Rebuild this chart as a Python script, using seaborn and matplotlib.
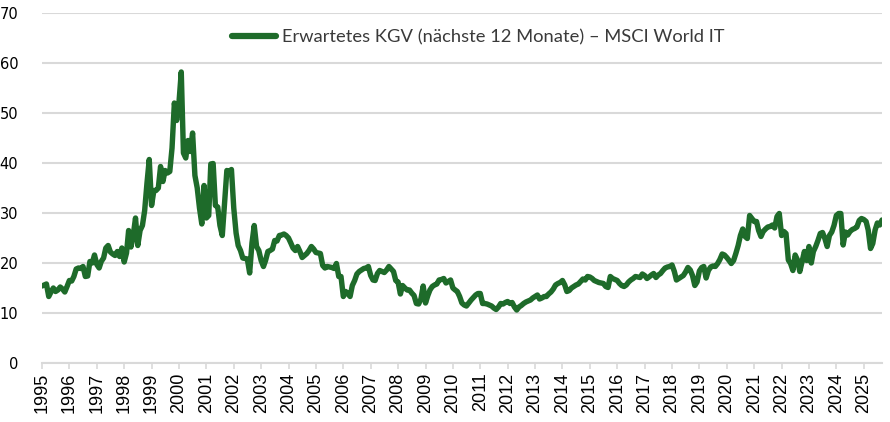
import numpy as np
import pandas as pd
import matplotlib
matplotlib.use("Agg")
import matplotlib.pyplot as plt
import matplotlib.dates as mdates
import seaborn as sns

# Monthly expected P/E values, starting January 1995
pe_1995_2004 = [
    15.4, 15.6, 15.8, 13.3, 14.2, 15.0, 14.3, 14.6, 15.2, 14.8, 14.2, 15.3,
    16.5, 16.4, 17.3, 18.8, 19.0, 18.9, 19.3, 17.3, 17.4, 20.3, 20.0, 21.6,
    19.7, 19.0, 20.3, 21.0, 23.0, 23.5, 22.2, 21.8, 21.5, 22.3, 21.3, 23.0,
    20.2, 22.0, 26.5, 23.2, 25.5, 29.0, 23.5, 26.5, 27.5, 30.5, 36.0, 40.7,
    31.5, 34.5, 34.5, 35.0, 39.3, 36.3, 38.5, 38.0, 38.3, 43.0, 52.0, 48.5,
    52.0, 58.2, 42.0, 41.0, 44.5, 42.3, 46.0, 37.5, 35.0, 31.0, 27.8, 35.5,
    29.0, 29.5, 39.8, 39.9, 31.5, 31.2, 27.5, 25.5, 32.0, 38.5, 38.3, 38.7,
    31.0, 26.0, 23.5, 22.5, 21.0, 20.9, 20.8, 18.0, 24.0, 27.5, 23.3, 22.5,
    20.5, 19.3, 20.5, 22.3, 22.5, 22.8, 24.5, 24.4, 25.5, 25.6, 25.8, 25.5,
    25.0, 24.0, 23.0, 22.5, 23.3, 22.3, 21.1, 21.5, 21.9, 22.5, 23.3, 22.8,
]
pe_2005_2014 = [
    22.1, 22.0, 21.9, 19.5, 19.0, 19.3, 19.2, 19.1, 18.9, 19.9, 17.3, 17.3,
    13.3, 14.3, 13.9, 13.3, 15.5, 16.5, 17.8, 18.3, 18.6, 18.9, 19.0, 19.3,
    17.5, 16.6, 16.5, 17.9, 18.5, 18.3, 18.1, 18.6, 19.3, 18.8, 18.3, 16.5,
    16.2, 13.8, 15.5, 15.0, 14.6, 14.6, 14.0, 13.5, 11.9, 11.8, 12.8, 15.4,
    12.0, 13.5, 14.6, 15.3, 15.6, 15.8, 16.6, 16.7, 16.9, 16.0, 16.3, 16.6,
    15.0, 14.6, 14.3, 13.3, 12.0, 11.6, 11.4, 12.0, 12.6, 13.1, 13.6, 13.9,
    13.9, 11.9, 11.9, 11.8, 11.6, 11.4, 11.0, 10.7, 11.2, 11.9, 11.8, 12.1,
    12.3, 11.9, 12.1, 11.2, 10.6, 11.2, 11.5, 11.9, 12.2, 12.4, 12.6, 13.0,
    13.3, 13.6, 12.8, 13.0, 13.3, 13.3, 13.8, 14.2, 14.8, 15.6, 15.9, 16.1,
    16.5, 15.6, 14.3, 14.5, 15.0, 15.3, 15.6, 15.8, 16.3, 16.8, 16.6, 17.3,
]
pe_2015_2025 = [
    17.2, 16.9, 16.5, 16.3, 16.1, 16.0, 15.9, 15.3, 15.1, 17.3, 16.9, 16.7,
    16.5, 15.9, 15.5, 15.3, 15.6, 16.2, 16.6, 16.9, 17.3, 17.2, 17.1, 17.8,
    17.5, 16.9, 17.2, 17.6, 17.9, 17.1, 17.6, 17.9, 18.5, 19.0, 19.2, 19.3,
    19.6, 18.3, 16.6, 16.9, 17.2, 17.5, 18.2, 19.1, 18.6, 17.5, 15.5, 16.2,
    18.4, 19.1, 19.3, 17.0, 18.5, 19.2, 19.4, 19.3, 19.9, 20.7, 21.8, 21.6,
    21.1, 20.5, 19.9, 20.5, 21.9, 23.5, 25.5, 26.8, 25.3, 24.9, 29.5, 28.9,
    28.3, 28.3, 26.5, 25.3, 26.3, 26.8, 27.2, 27.3, 27.6, 27.0, 29.3, 29.9,
    25.5, 26.3, 25.9, 20.6, 19.9, 18.5, 21.6, 20.6, 18.3, 20.3, 22.3, 20.5,
    23.3, 20.0, 22.3, 23.3, 24.5, 25.9, 26.1, 24.9, 23.3, 25.5, 26.2, 27.5,
    29.5, 29.9, 29.9, 23.6, 26.2, 25.6, 26.3, 26.7, 26.9, 27.2, 28.5, 28.9,
    28.7, 28.3, 26.6, 22.9, 23.9, 26.6, 28.0, 27.6, 28.6,
]
start_month = "1995-01-01"
series_label = "Erwartetes KGV (nächste 12 Monate) – MSCI World IT"
y_ticks = [0, 10, 20, 30, 40, 50, 60, 70]

values = pe_1995_2004 + pe_2005_2014 + pe_2015_2025
dates = pd.date_range(start_month, periods=len(values), freq="MS")
df = pd.DataFrame({"Datum": dates, "KGV": values, "Serie": series_label})

line_green = "#1e6b2a"
grid_gray = "#d9d9d9"

sns.set_theme(style="white")
plt.rcParams["font.family"] = ["Liberation Sans", "DejaVu Sans"]

fig = plt.figure(figsize=(8.9, 4.22), dpi=100)
ax = fig.add_axes([42 / 890, 1 - 363 / 422, (882 - 42) / 890, 350 / 422])

sns.lineplot(data=df, x="Datum", y="KGV", hue="Serie", palette=[line_green],
             linewidth=3.9, ax=ax, legend=True)
for ln in ax.get_lines():
    ln.set_solid_capstyle("round")
    ln.set_solid_joinstyle("round")

ax.set_ylim(0, 70)
ax.set_yticks(y_ticks)
ax.set_yticklabels([str(v) for v in y_ticks], fontfamily="DejaVu Sans", fontsize=10.5)
ax.set_xlim(dates[0], dates[-1])
ax.xaxis.set_major_locator(mdates.YearLocator(1))
ax.xaxis.set_major_formatter(mdates.DateFormatter("%Y"))

ax.grid(axis="y", color=grid_gray, linewidth=1.5)
ax.grid(axis="x", visible=False)
ax.set_axisbelow(True)
for s in ["left", "right", "top"]:
    ax.spines[s].set_visible(False)
ax.spines["bottom"].set_color(grid_gray)
ax.spines["bottom"].set_linewidth(1.5)
ax.spines["bottom"].set_zorder(0)

ax.tick_params(axis="x", which="major", bottom=True, length=4, width=1.2,
               color=grid_gray, pad=3, labelsize=13, labelrotation=90,
               labelcolor="#000000")
ax.tick_params(axis="y", left=False, pad=11, labelcolor="#000000")
ax.set_xlabel("")
ax.set_ylabel("")

handles, labels = ax.get_legend_handles_labels()
ax.legend(handles, labels, loc="center", bbox_to_anchor=(478 / 890, 1 - 37 / 422),
          bbox_transform=fig.transFigure, frameon=False,
          prop={"family": ["Lato", "DejaVu Sans"], "size": 13.2},
          handlelength=2.4, handletextpad=0.3, labelcolor="#3a3a3a")
leg = ax.get_legend()
for h in leg.get_lines():
    h.set_linewidth(4.5)
    h.set_solid_capstyle("round")

fig.savefig("out.png", dpi=100)
